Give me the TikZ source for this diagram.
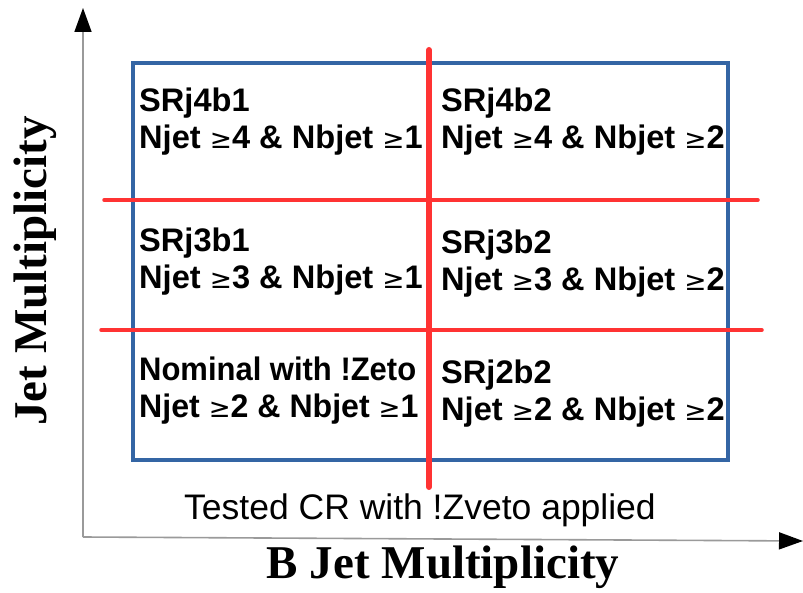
\documentclass[tikz,border=0pt]{standalone}
\usepackage{fontspec}
\setmainfont{Liberation Sans}
\newfontfamily\timesb{Liberation Serif}
\newfontfamily\symfont{DejaVu Sans}
\usetikzlibrary{arrows.meta}
\definecolor{boxblue}{HTML}{3465A4}
\definecolor{cutred}{HTML}{FF3333}
\definecolor{axisgray}{HTML}{9A9A9A}
\newcommand{\myge}{{\symfont\mdseries\fontsize{26.5}{37}\selectfont\char"2265}}
\begin{document}
\begin{tikzpicture}[x=1pt,y=-1pt,
  cell/.style={anchor=west,align=left,inner sep=0pt,font=\fontsize{32.6}{37}\selectfont\bfseries},
  axisline/.style={draw=axisgray,line width=1.6pt,-{Triangle[length=24pt,width=17pt,color=black]}},
  axistitle/.style={font=\fontsize{47}{50}\selectfont\timesb\bfseries,inner sep=0pt},
  cutline/.style={draw=cutred,line cap=round}]
\useasboundingbox (0,0) rectangle (803,593);
% axes
\coordinate (origin) at (83,537);
\coordinate (ytip) at (83,8);
\coordinate (xtip) at (803,541);
\draw[axisline] (origin) -- (ytip);
\draw[axisline] (origin) -- (xtip);
% box
\draw[boxblue,line width=3.5pt] (133,63) rectangle (728,460);
% red cuts
\coordinate (h1a) at (104,200); \coordinate (h1b) at (758,200);
\coordinate (h2a) at (101,330); \coordinate (h2b) at (762,330);
\coordinate (va) at (429,50); \coordinate (vb) at (429,487);
\draw[cutline,line width=3.5pt] (h1a) -- (h1b);
\draw[cutline,line width=3.5pt] (h2a) -- (h2b);
\draw[cutline,line width=6pt] (va) -- (vb);
% cells
\node[cell] (c41) at (139,122) {SRj4b1\\Njet \myge4 \& Nbjet \myge1};
\node[cell] (c42) at (441,122) {SRj4b2\\Njet \myge4 \& Nbjet \myge2};
\node[cell] (c31) at (139,262) {SRj3b1\\Njet \myge3 \& Nbjet \myge1};
\node[cell] (c32) at (441,264) {SRj3b2\\Njet \myge3 \& Nbjet \myge2};
\node[cell] (c21) at (139,391) {\scalebox{0.95}[1]{Nominal with !Zeto}\\\scalebox{0.985}[1]{Njet \myge2 \& Nbjet \myge1}};
\node[cell] (c22) at (441,394) {SRj2b2\\Njet \myge2 \& Nbjet \myge2};
% captions
\node[inner sep=0pt,font=\fontsize{35.5}{38}\selectfont] (tested) at (420,510) {Tested CR with !Zveto applied};
\node[axistitle] (xtitle) at (443,567) {B Jet Multiplicity};
\node[axistitle,rotate=90] (ytitle) at (35,271) {Jet Multiplicity};
\end{tikzpicture}
\end{document}
